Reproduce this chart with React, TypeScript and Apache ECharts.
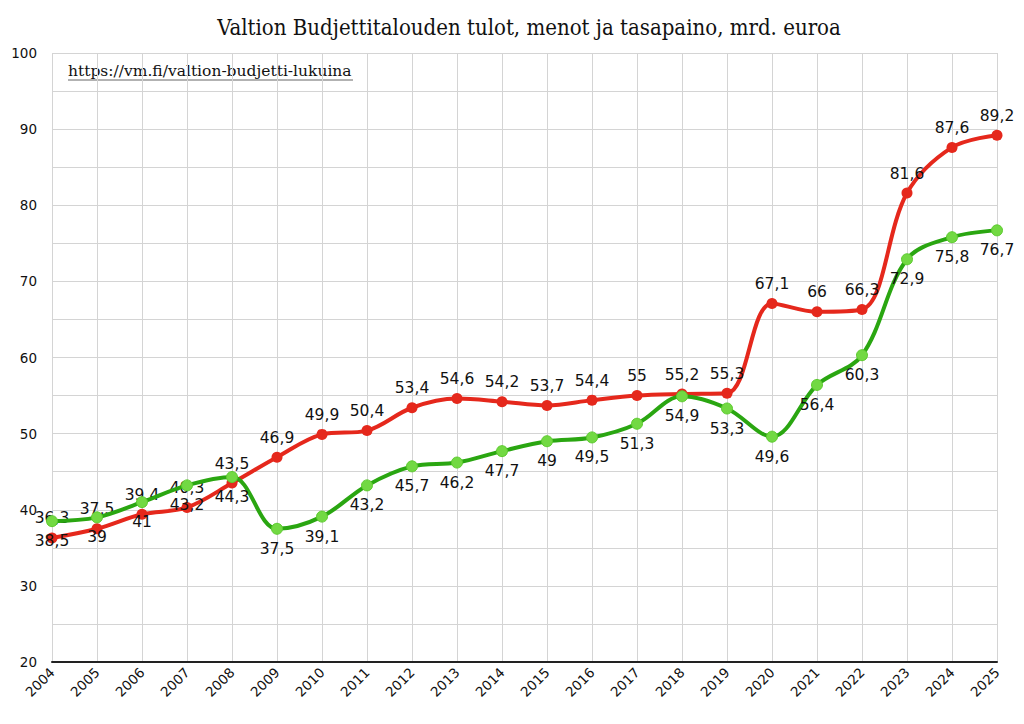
import React, { useEffect, useRef } from "react";
import * as echarts from "echarts";

const years = [
  "2004", "2005", "2006", "2007", "2008", "2009", "2010", "2011", "2012", "2013", "2014",
  "2015", "2016", "2017", "2018", "2019", "2020", "2021", "2022", "2023", "2024", "2025",
];

// Menot (expenditure), mrd. euroa
const menot = [
  36.3, 37.5, 39.4, 40.3, 43.5, 46.9, 49.9, 50.4, 53.4, 54.6, 54.2,
  53.7, 54.4, 55, 55.2, 55.3, 67.1, 66, 66.3, 81.6, 87.6, 89.2,
];

// Tulot (revenue), mrd. euroa
const tulot = [
  38.5, 39, 41, 43.2, 44.3, 37.5, 39.1, 43.2, 45.7, 46.2, 47.7,
  49, 49.5, 51.3, 54.9, 53.3, 49.6, 56.4, 60.3, 72.9, 75.8, 76.7,
];

const titleText = "Valtion Budjettitalouden tulot, menot ja tasapaino, mrd. euroa";
const sourceText = "https://vm.fi/valtion-budjetti-lukuina";

const fmt = (v: number) => String(v).replace(".", ",");

export default function App() {
  const ref = useRef<HTMLDivElement>(null);

  useEffect(() => {
    if (!ref.current) return;
    const chart = echarts.init(ref.current, null, { renderer: "svg" });
    const labelFont = {
      color: "#111",
      fontSize: 15.5,
      fontFamily: "DejaVu Sans",
      formatter: (p: any) => fmt(p.value),
    };
    chart.setOption({
      animation: false,
      backgroundColor: "#fff",
      title: {
        text: titleText,
        left: 524,
        textAlign: "center",
        top: 11,
        textStyle: {
          fontFamily: "DejaVu Serif Condensed",
          fontWeight: "normal",
          fontSize: 22,
          color: "#111",
        },
      },
      grid: { left: 52, right: 27, top: 53, bottom: 62 },
      xAxis: {
        type: "category",
        data: years,
        boundaryGap: false,
        axisLine: { show: true, lineStyle: { color: "#222", width: 2 } },
        axisTick: { show: false },
        axisLabel: {
          rotate: 45,
          fontSize: 13.5,
          fontFamily: "DejaVu Sans",
          color: "#111",
          margin: 8,
          interval: 0,
        },
        splitLine: { show: true, lineStyle: { color: "#d4d4d4", width: 1 } },
      },
      yAxis: {
        type: "value",
        min: 20,
        max: 100,
        interval: 10,
        axisLine: { show: false },
        axisTick: { show: false },
        axisLabel: {
          fontSize: 13.5,
          fontFamily: "DejaVu Sans",
          color: "#111",
          margin: 15,
        },
        splitLine: { show: true, lineStyle: { color: "#d4d4d4", width: 1 } },
        minorTick: { show: false, splitNumber: 2 },
        minorSplitLine: { show: true, lineStyle: { color: "#d4d4d4", width: 1 } },
      },
      graphic: [
        {
          type: "text",
          left: 68,
          top: 63,
          style: {
            text: sourceText,
            fontFamily: "DejaVu Serif",
            fontSize: 15.5,
            fill: "#111",
          },
        },
        {
          type: "line",
          shape: { x1: 68, y1: 80, x2: 353, y2: 80 },
          style: { stroke: "#666", lineWidth: 1 },
        },
      ],
      series: [
        {
          name: "Menot",
          type: "line",
          data: menot,
          smooth: 0.35,
          symbol: "circle",
          symbolSize: 11,
          lineStyle: { color: "#e5281c", width: 4 },
          itemStyle: { color: "#e5281c" },
          label: { show: true, position: "top", distance: 6, ...labelFont },
          z: 2,
        },
        {
          name: "Tulot",
          type: "line",
          data: tulot,
          smooth: 0.35,
          symbol: "circle",
          symbolSize: 11,
          lineStyle: { color: "#2aa611", width: 4 },
          itemStyle: { color: "#72d943", borderColor: "#5ccb2e", borderWidth: 1 },
          label: { show: true, position: "bottom", distance: 6, ...labelFont },
          z: 3,
        },
      ],
    });
    return () => chart.dispose();
  }, []);

  return (
    <div
      ref={ref}
      style={{ position: "fixed", left: 0, top: 0, width: 1024, height: 724 }}
    />
  );
}
